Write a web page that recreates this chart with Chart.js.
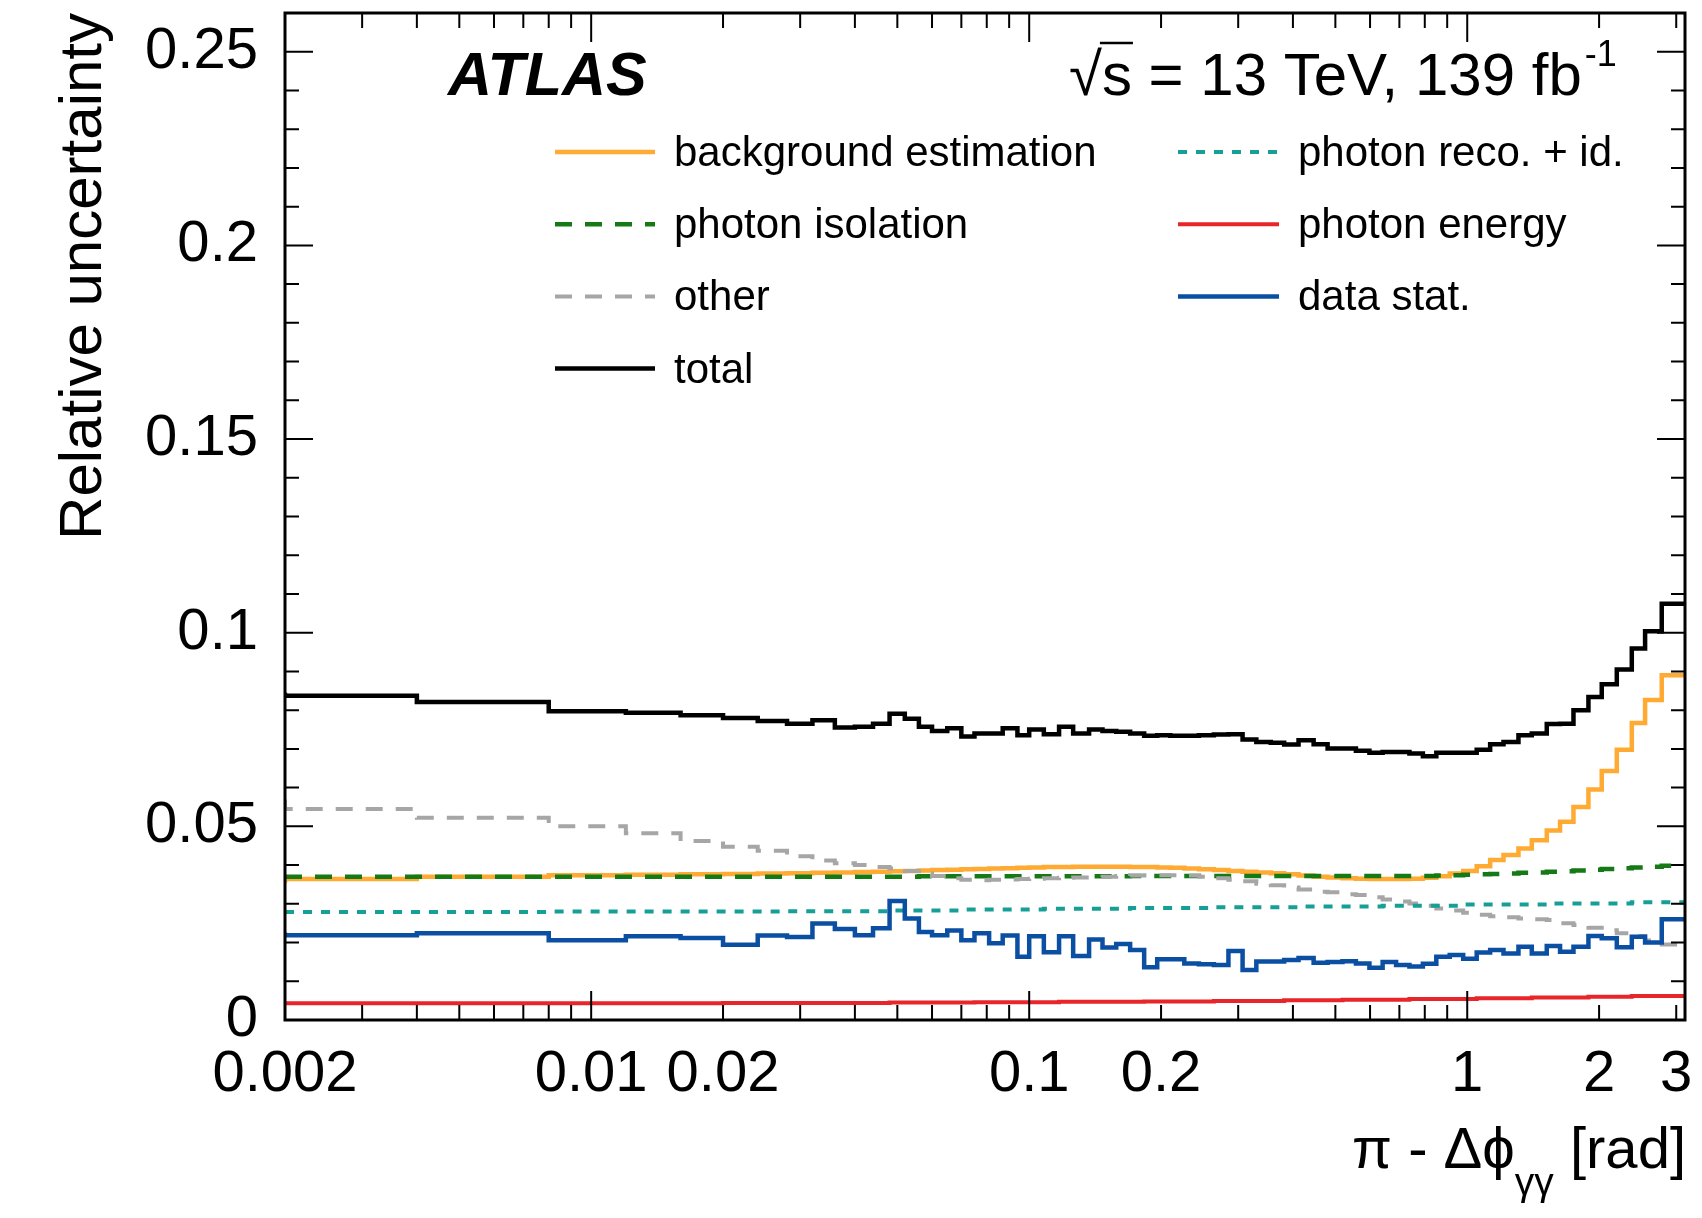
<!DOCTYPE html>
<html lang="en">
<head>
<meta charset="UTF-8">
<title>Relative uncertainty vs pi - dphi</title>
<script src="https://cdn.jsdelivr.net/npm/chart.js"></script>
<style>
  html, body { margin: 0; padding: 0; background: #fff; }
  #uncChart { display: block; }
</style>
</head>
<body>
<canvas id="uncChart" width="1702" height="1218" style="width:1702px;height:1218px"></canvas>
<script>
// bin edges of pi - dphi [rad]; the first bin starts at 0 but the log axis shows it from 0.002
const binEdges = [
  0.002, 0.004, 0.008, 0.012, 0.016, 0.02, 0.024, 0.028, 0.032, 0.036,
  0.04, 0.044, 0.048, 0.052, 0.056, 0.06, 0.065, 0.07, 0.075, 0.081,
  0.087, 0.094, 0.1, 0.108, 0.117, 0.126, 0.137, 0.147, 0.158, 0.17,
  0.183, 0.196, 0.21, 0.226, 0.244, 0.264, 0.285, 0.307, 0.33, 0.356,
  0.382, 0.412, 0.446, 0.48, 0.519, 0.557, 0.598, 0.641, 0.688, 0.738,
  0.792, 0.85, 0.912, 0.979, 1.051, 1.128, 1.21, 1.309, 1.404, 1.519,
  1.629, 1.748, 1.891, 2.028, 2.195, 2.375, 2.547, 2.78, 2.982, 3.1416
];

const bkgEstimation = [
  0.0353, 0.0364, 0.0370, 0.0374, 0.0375, 0.0376, 0.0377, 0.0378, 0.0379, 0.0380,
  0.0381, 0.0382, 0.0383, 0.0384, 0.0385, 0.0386, 0.0387, 0.0388, 0.0389, 0.0390,
  0.0391, 0.0392, 0.0393, 0.0394, 0.0395, 0.0395, 0.0396, 0.0396, 0.0396, 0.0396,
  0.0395, 0.0395, 0.0394, 0.0393, 0.0391, 0.0389, 0.0387, 0.0385, 0.0383, 0.0381,
  0.0379, 0.0376, 0.0373, 0.0370, 0.0368, 0.0366, 0.0365, 0.0364, 0.0364, 0.0364,
  0.0365, 0.0367, 0.0371, 0.0378, 0.0385, 0.0397, 0.0413, 0.0426, 0.0443, 0.0464,
  0.0489, 0.0512, 0.0550, 0.0595, 0.0643, 0.0698, 0.0767, 0.0826, 0.0890
];

const photonIsolation = [
  0.0370, 0.0370, 0.0370, 0.0370, 0.0370, 0.0370, 0.0370, 0.0370, 0.0370, 0.0370,
  0.0370, 0.0370, 0.0370, 0.0370, 0.0370, 0.0371, 0.0371, 0.0371, 0.0371, 0.0371,
  0.0371, 0.0371, 0.0371, 0.0371, 0.0371, 0.0371, 0.0371, 0.0371, 0.0371, 0.0371,
  0.0372, 0.0372, 0.0372, 0.0372, 0.0372, 0.0372, 0.0372, 0.0372, 0.0372, 0.0372,
  0.0372, 0.0372, 0.0372, 0.0372, 0.0372, 0.0372, 0.0372, 0.0372, 0.0372, 0.0372,
  0.0372, 0.0372, 0.0373, 0.0374, 0.0375, 0.0376, 0.0377, 0.0378, 0.0380, 0.0381,
  0.0383, 0.0384, 0.0386, 0.0388, 0.0390, 0.0392, 0.0394, 0.0396, 0.0398
];

const otherSyst = [
  0.0569, 0.0545, 0.0522, 0.0500, 0.0482, 0.0462, 0.0447, 0.0437, 0.0423, 0.0412,
  0.0405, 0.0400, 0.0395, 0.0391, 0.0385, 0.0378, 0.0372, 0.0366, 0.0362, 0.0361,
  0.0362, 0.0363, 0.0364, 0.0365, 0.0366, 0.0367, 0.0368, 0.0369, 0.0370, 0.0372,
  0.0373, 0.0374, 0.0374, 0.0374, 0.0373, 0.0370, 0.0366, 0.0362, 0.0358, 0.0352,
  0.0348, 0.0342, 0.0337, 0.0331, 0.0330, 0.0325, 0.0323, 0.0317, 0.0311, 0.0306,
  0.0301, 0.0295, 0.0288, 0.0283, 0.0277, 0.0272, 0.0268, 0.0265, 0.0262, 0.0260,
  0.0258, 0.0250, 0.0245, 0.0238, 0.0232, 0.0224, 0.0217, 0.0205, 0.0195
];

const totalUnc = [
  0.0845, 0.0837, 0.0821, 0.0797, 0.0793, 0.0787, 0.0780, 0.0772, 0.0765, 0.0774,
  0.0755, 0.0757, 0.0765, 0.0791, 0.0778, 0.0757, 0.0746, 0.0753, 0.0732, 0.0740,
  0.0740, 0.0753, 0.0735, 0.0750, 0.0738, 0.0757, 0.0740, 0.0750, 0.0746, 0.0744,
  0.0740, 0.0734, 0.0735, 0.0734, 0.0734, 0.0735, 0.0737, 0.0738, 0.0724, 0.0718,
  0.0716, 0.0711, 0.0722, 0.0712, 0.0701, 0.0701, 0.0695, 0.0690, 0.0692, 0.0692,
  0.0688, 0.0681, 0.0690, 0.0690, 0.0690, 0.0698, 0.0712, 0.0718, 0.0735, 0.0740,
  0.0764, 0.0765, 0.0800, 0.0834, 0.0867, 0.0905, 0.0959, 0.1004, 0.1075
];

const photonRecoId = [
  0.0279, 0.0279, 0.0279, 0.0280, 0.0280, 0.0280, 0.0280, 0.0280, 0.0281, 0.0281,
  0.0281, 0.0281, 0.0281, 0.0283, 0.0283, 0.0283, 0.0283, 0.0283, 0.0285, 0.0285,
  0.0285, 0.0285, 0.0285, 0.0285, 0.0287, 0.0287, 0.0287, 0.0287, 0.0287, 0.0287,
  0.0289, 0.0289, 0.0289, 0.0289, 0.0289, 0.0289, 0.0291, 0.0291, 0.0291, 0.0291,
  0.0291, 0.0291, 0.0293, 0.0293, 0.0293, 0.0293, 0.0293, 0.0293, 0.0295, 0.0295,
  0.0295, 0.0295, 0.0295, 0.0295, 0.0298, 0.0298, 0.0298, 0.0298, 0.0298, 0.0298,
  0.0301, 0.0301, 0.0301, 0.0301, 0.0301, 0.0301, 0.0304, 0.0304, 0.0304
];

const photonEnergy = [
  0.0043, 0.0043, 0.0043, 0.0043, 0.0043, 0.0043, 0.0044, 0.0044, 0.0044, 0.0044,
  0.0044, 0.0044, 0.0044, 0.0045, 0.0045, 0.0045, 0.0045, 0.0045, 0.0045, 0.0046,
  0.0046, 0.0046, 0.0046, 0.0046, 0.0046, 0.0047, 0.0047, 0.0047, 0.0047, 0.0047,
  0.0047, 0.0048, 0.0048, 0.0048, 0.0048, 0.0048, 0.0049, 0.0049, 0.0049, 0.0049,
  0.0049, 0.0051, 0.0051, 0.0051, 0.0051, 0.0052, 0.0052, 0.0052, 0.0052, 0.0052,
  0.0054, 0.0054, 0.0054, 0.0054, 0.0054, 0.0056, 0.0056, 0.0056, 0.0056, 0.0058,
  0.0058, 0.0058, 0.0058, 0.0060, 0.0060, 0.0060, 0.0062, 0.0062, 0.0062
];

const dataStat = [
  0.0226, 0.0219, 0.0224, 0.0206, 0.0216, 0.0212, 0.0194, 0.0218, 0.0214, 0.0249,
  0.0235, 0.0219, 0.0237, 0.0307, 0.0262, 0.0227, 0.0219, 0.0231, 0.0206, 0.0224,
  0.0198, 0.0218, 0.0163, 0.0216, 0.0175, 0.0216, 0.0165, 0.0208, 0.0187, 0.0196,
  0.0181, 0.0136, 0.0157, 0.0157, 0.0146, 0.0144, 0.0142, 0.0178, 0.0129, 0.0151,
  0.0151, 0.0155, 0.0160, 0.0148, 0.0150, 0.0152, 0.0146, 0.0135, 0.0150, 0.0142,
  0.0138, 0.0145, 0.0163, 0.0168, 0.0158, 0.0174, 0.0181, 0.0172, 0.0189, 0.0172,
  0.0191, 0.0176, 0.0189, 0.0217, 0.0211, 0.0188, 0.0215, 0.0200, 0.0260
];

const yTicks = [0, 0.05, 0.1, 0.15, 0.2, 0.25];
const xTickLabels = [0.002, 0.01, 0.02, 0.1, 0.2, 1, 2, 3];

const FONT = '"Liberation Sans", Arial, Helvetica, sans-serif';

// turn bin contents into points for a step line (value holds until the next edge)
function histPoints(values) {
  const pts = values.map((v, i) => ({ x: binEdges[i], y: v }));
  pts.push({ x: binEdges[binEdges.length - 1], y: values[values.length - 1] });
  return pts;
}

function makeSet(label, values, color, dash, width, order) {
  return {
    label: label,
    data: histPoints(values),
    borderColor: color,
    borderWidth: width,
    borderDash: dash,
    borderCapStyle: 'butt',
    borderJoinStyle: 'miter',
    stepped: 'after',
    pointRadius: 0,
    fill: false,
    order: order
  };
}

const datasets = [
  makeSet('background estimation', bkgEstimation, '#ffaa33', [], 4.5, 6),
  makeSet('photon isolation', photonIsolation, '#157a15', [17, 13], 4.5, 5),
  makeSet('other', otherSyst, '#a6a6a6', [17, 13], 4, 4),
  makeSet('total', totalUnc, '#000000', [], 4.5, 0),
  makeSet('photon reco. + id.', photonRecoId, '#169f96', [9, 9], 4, 3),
  makeSet('photon energy', photonEnergy, '#e8262a', [], 4, 2),
  makeSet('data stat.', dataStat, '#0b4fa3', [], 4.5, 1)
];

// legend layout: [dataset index, column, row]
const legendSlots = [[0, 0, 0], [1, 0, 1], [2, 0, 2], [3, 0, 3], [4, 1, 0], [5, 1, 1], [6, 1, 2]];

// keep the plot frame where it is, no extra padding for overhanging labels
function fixScale(s, size) {
  if (s.isHorizontal()) s.height = size; else s.width = size;
  s.paddingTop = 0; s.paddingBottom = 0; s.paddingLeft = 0; s.paddingRight = 0;
}

const rootFrame = {
  id: 'rootFrame',
  afterDatasetsDraw(chart) {
    const { ctx, chartArea: a, scales: { x, y } } = chart;
    ctx.save();
    ctx.strokeStyle = '#000';
    ctx.lineWidth = 2;
    ctx.beginPath();
    for (let e = -3; e <= 0; e++) {
      for (let m = 1; m <= 9; m++) {
        const v = m * Math.pow(10, e);
        if (v < 0.00199 || v > Math.PI) continue;
        const px = x.getPixelForValue(v);
        const len = m === 1 ? 29 : 15;
        ctx.moveTo(px, a.bottom); ctx.lineTo(px, a.bottom - len);
        ctx.moveTo(px, a.top); ctx.lineTo(px, a.top + len);
      }
    }
    for (let i = 0; i <= 26; i++) {
      const py = y.getPixelForValue(i / 100);
      const len = i % 5 === 0 ? 28 : 14;
      ctx.moveTo(a.left, py); ctx.lineTo(a.left + len, py);
      ctx.moveTo(a.right, py); ctx.lineTo(a.right - len, py);
    }
    ctx.stroke();
    ctx.lineWidth = 3;
    ctx.strokeRect(a.left, a.top, a.right - a.left, a.bottom - a.top);
    ctx.restore();
  },
  afterDraw(chart) {
    const ctx = chart.ctx;
    ctx.save();
    ctx.fillStyle = '#000';
    ctx.strokeStyle = '#000';
    ctx.textBaseline = 'alphabetic';

    // legend
    const colX = [[555, 655, 674], [1178, 1279, 1298]];
    ctx.font = '42px ' + FONT;
    legendSlots.forEach(([di, col, row]) => {
      const ds = chart.data.datasets[di];
      const ly = 152 + row * 72.2;
      const [x0, x1, tx] = colX[col];
      ctx.save();
      ctx.strokeStyle = ds.borderColor;
      ctx.lineWidth = ds.borderWidth;
      ctx.setLineDash(ds.borderDash);
      ctx.beginPath();
      ctx.moveTo(x0, ly); ctx.lineTo(x1, ly);
      ctx.stroke();
      ctx.restore();
      ctx.fillText(ds.label, tx, ly + 14);
    });

    // ATLAS label
    ctx.font = 'italic bold 61px ' + FONT;
    ctx.fillText('ATLAS', 448, 95);

    // sqrt(s) label
    ctx.font = '60px ' + FONT;
    let sx = 1069;
    ctx.fillText('\u221A', sx, 95);
    sx += ctx.measureText('\u221A').width;
    const sW = ctx.measureText('s').width;
    ctx.fillText('s', sx, 95);
    ctx.lineWidth = 2.5;
    ctx.beginPath();
    ctx.moveTo(sx - 2, 43); ctx.lineTo(sx + sW + 1, 43);
    ctx.stroke();
    sx += sW;
    const mid = ' = 13 TeV, 139 fb';
    ctx.fillText(mid, sx, 95);
    sx += ctx.measureText(mid).width;
    ctx.font = '36px ' + FONT;
    ctx.fillText('-1', sx + 3, 66);

    // y title
    ctx.save();
    ctx.translate(101, 13);
    ctx.rotate(-Math.PI / 2);
    ctx.textAlign = 'right';
    ctx.font = '60px ' + FONT;
    ctx.fillText('Relative uncertainty', 0, 0);
    ctx.restore();

    // x title
    ctx.font = '58px ' + FONT;
    const p1 = '\u03C0 - \u0394\u03D5', p3 = ' [rad]';
    const w1 = ctx.measureText(p1).width, w3 = ctx.measureText(p3).width;
    ctx.font = '39px ' + FONT;
    const w2 = ctx.measureText('\u03B3\u03B3').width;
    let tx = 1686 - (w1 + w2 + w3);
    ctx.font = '58px ' + FONT;
    ctx.fillText(p1, tx, 1168);
    tx += w1;
    ctx.font = '39px ' + FONT;
    ctx.fillText('\u03B3\u03B3', tx, 1195);
    tx += w2;
    ctx.font = '58px ' + FONT;
    ctx.fillText(p3, tx, 1168);

    ctx.restore();
  }
};

new Chart(document.getElementById('uncChart').getContext('2d'), {
  type: 'line',
  data: { datasets: datasets },
  options: {
    responsive: false,
    devicePixelRatio: 1,
    animation: false,
    layout: { padding: { top: 13, right: 17, left: 0, bottom: 0 } },
    plugins: { legend: { display: false }, tooltip: { enabled: false } },
    scales: {
      x: {
        type: 'logarithmic',
        min: 0.002,
        max: Math.PI,
        grid: { display: false, drawTicks: false },
        border: { display: false },
        afterBuildTicks: (s) => { s.ticks = xTickLabels.map(v => ({ value: v })); },
        afterFit: (s) => fixScale(s, 198),
        ticks: {
          autoSkip: false, maxRotation: 0, minRotation: 0, padding: 20,
          color: '#000', font: { family: FONT, size: 58 },
          callback: (v) => String(v)
        }
      },
      y: {
        type: 'linear',
        min: 0,
        max: 0.26,
        grid: { display: false, drawTicks: false },
        border: { display: false },
        afterBuildTicks: (s) => { s.ticks = yTicks.map(v => ({ value: v })); },
        afterFit: (s) => fixScale(s, 285),
        ticks: {
          padding: 27, color: '#000', font: { family: FONT, size: 58 },
          callback: (v) => String(v)
        }
      }
    }
  },
  plugins: [rootFrame]
});
</script>
</body>
</html>
